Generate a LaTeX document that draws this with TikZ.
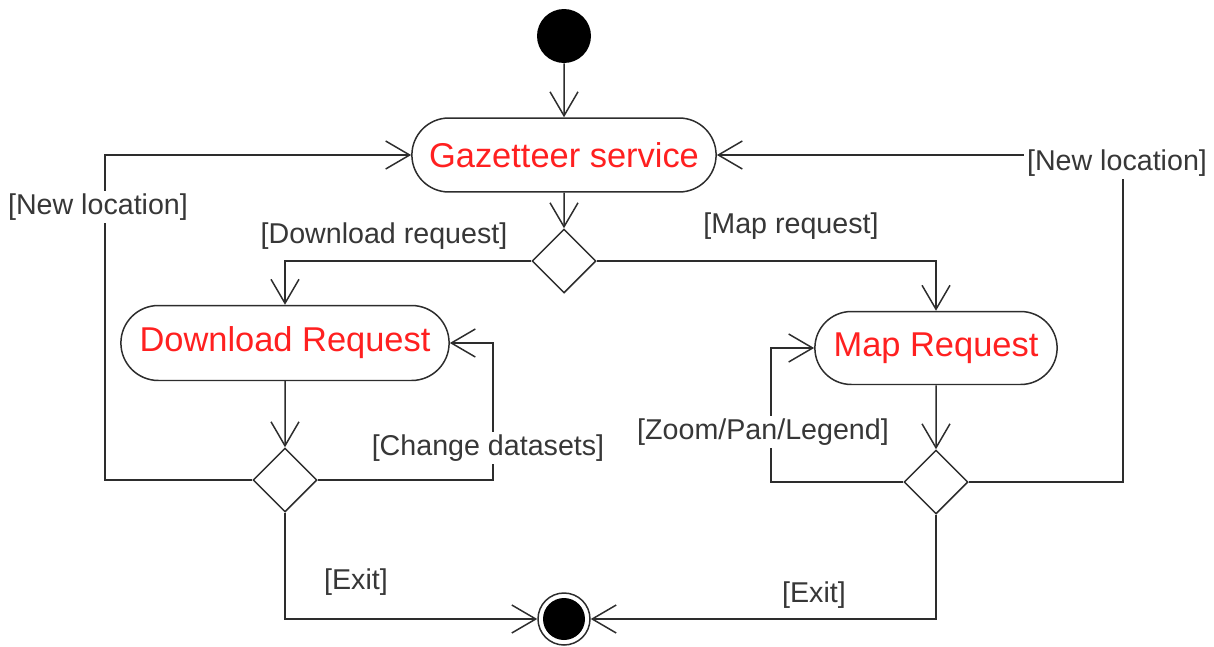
\documentclass[tikz,border=0pt]{standalone}
\usepackage{fontspec}
\setmainfont{Liberation Sans}
\usetikzlibrary{arrows.meta,shapes.misc,shapes.geometric}
\definecolor{linec}{RGB}{45,45,45}
\definecolor{actred}{RGB}{255,32,32}
\definecolor{guardc}{RGB}{55,55,55}
\begin{document}
\begin{tikzpicture}[x=0.02cm,y=-0.02cm,
  activity/.style={rounded rectangle,draw=linec,line width=0.85pt,fill=white,
    text=actred,font=\fontsize{19.6}{23}\selectfont,minimum height=1.48cm},
  choice/.style={diamond,draw=linec,line width=0.85pt,fill=white,aspect=1,
    inner sep=0pt,minimum size=1.28cm},
  guard/.style={fill=white,text=guardc,inner sep=1.5pt,
    font=\fontsize{16.3}{19}\selectfont},
  flow/.style={draw=linec,line width=0.85pt,
    -{Straight Barb[length=0.48cm,width=0.56cm,line width=0.85pt]}}]
\useasboundingbox (0,0) rectangle (1214,646);

% states
\node[circle,fill=black,minimum size=1.08cm,inner sep=0pt] (start) at (564,36) {};
\node[circle,draw=linec,line width=0.85pt,minimum size=1.04cm,inner sep=0pt] (end) at (564,619) {};
\fill (end.center) circle (0.42cm);

\node[activity,minimum width=6.32cm] (gaz) at (564,155) {Gazetteer service};
\node[activity,minimum width=6.8cm,minimum height=1.5cm] (dl) at (285,343) {Download Request};
\node[activity,minimum width=5.08cm,minimum height=1.46cm] (map) at (936,348) {Map Request};

\node[choice] (d1) at (564,261) {};
\node[choice] (d2) at (285,480) {};
\node[choice] (d3) at (936,482) {};

\coordinate (cd) at (493,480);
\coordinate (nl1) at (105,480);
\coordinate (zp) at (771,482);
\coordinate (nl2) at (1123,482);

% flows
\draw[flow] (start) -- (gaz);
\draw[flow] (gaz) -- (d1);
\draw[flow] (d1.west) -| (dl.north);
\draw[flow] (d1.east) -| (map.north);
\draw[flow] (dl) -- (d2);
\draw[flow] (map) -- (d3);
\draw[flow] (d2.east) -- (cd) |- (dl.east);
\draw[flow] (d2.west) -- (nl1) |- (gaz.west);
\draw[flow] (d2.south) |- (end.west);
\draw[flow] (d3.west) -- (zp) |- (map.west);
\draw[flow] (d3.east) -- (nl2) |- (gaz.east);
\draw[flow] (d3.south) |- (end.east);

% guards
\node[guard] (gnl1) at (98,207) {[New location]};
\node[guard] (gdl) at (384,236) {[Download request]};
\node[guard] (gmap) at (791,226) {[Map request]};
\node[guard] (gnl2) at (1117,163) {[New location]};
\node[guard] (gcd) at (488,448) {[Change datasets]};
\node[guard] (gzp) at (763,432) {[Zoom/Pan/Legend]};
\node[guard] (gex1) at (356,582) {[Exit]};
\node[guard] (gex2) at (814,595) {[Exit]};
\end{tikzpicture}
\end{document}
